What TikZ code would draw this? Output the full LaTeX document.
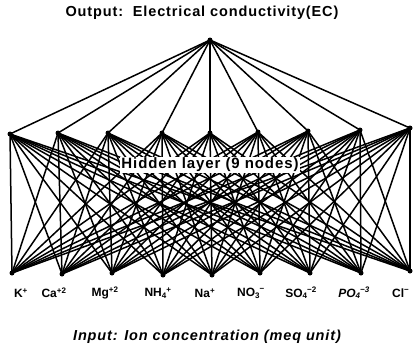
\documentclass[tikz,border=0pt]{standalone}
\usepackage{fontspec}
\setmainfont{Liberation Sans}
\newfontfamily\widefont[LetterSpace=6]{Liberation Sans}
\newcommand\ionss[2]{\textsubscript{#1}\kern-0.5pt\textsuperscript{#2}}
\begin{document}
\begin{tikzpicture}[x=1pt,y=-1pt,
  dot/.style={circle,fill=black,inner sep=0pt,minimum size=5pt},
  wire/.style={line width=1.5pt,black},
  ion/.style={font=\bfseries\fontsize{12}{14}\selectfont,inner sep=0pt},
  title/.style={font=\widefont\bfseries\fontsize{14.5}{16}\selectfont,inner sep=0pt}]
\useasboundingbox (0,0) rectangle (413,354);
% output node
\node[dot] (o) at (210,40) {};
% hidden nodes
\foreach \i/\x/\y in {1/10/134,2/58/133,3/108/133,4/162/133,5/210/133,6/258/132,7/308/131,8/360/130,9/410/128}
  \node[dot] (h\i) at (\x,\y) {};
% input nodes
\foreach \i/\x/\y in {1/12/273,2/62/274,3/112/273,4/163/275,5/212/275,6/260/273,7/310/273,8/361/273,9/410/271}
  \node[dot] (n\i) at (\x,\y) {};
% connections
\foreach \i in {1,...,9} {
  \draw[wire] (h\i.center) -- (o.center);
  \foreach \j in {1,...,9}
    \draw[wire] (n\j.center) -- (h\i.center);
}
% labels
\node[title] (tout) at (202,13) {Output:\ \ Electrical conductivity(EC)};
\node[title,font=\widefont\bfseries\itshape\fontsize{14.5}{16}\selectfont] (tin) at (207,337) {Input: Ion concentration (meq unit)};
\node[fill=white,inner sep=1.5pt,font=\widefont\bfseries\fontsize{15}{17}\selectfont] (hl) at (210,165) {Hidden layer (9 nodes)};
\node[ion] (l1) at (21,293) {K\textsuperscript{+}};
\node[ion] (l2) at (54,293) {Ca\textsuperscript{+2}};
\node[ion] (l3) at (105,293) {Mg\textsuperscript{+2}};
\node[ion] (l4) at (158,293) {NH\ionss{4}{+}};
\node[ion] (l5) at (205,293) {Na\textsuperscript{+}};
\node[ion] (l6) at (251,293) {NO\ionss{3}{−}};
\node[ion] (l7) at (301,293) {SO\ionss{4}{−2}};
\node[ion,font=\bfseries\itshape\fontsize{12}{14}\selectfont] (l8) at (354,293) {PO\ionss{4}{−3}};
\node[ion,anchor=west] (l9) at (392,293) {Cl\textsuperscript{−}};
\end{tikzpicture}
\end{document}
